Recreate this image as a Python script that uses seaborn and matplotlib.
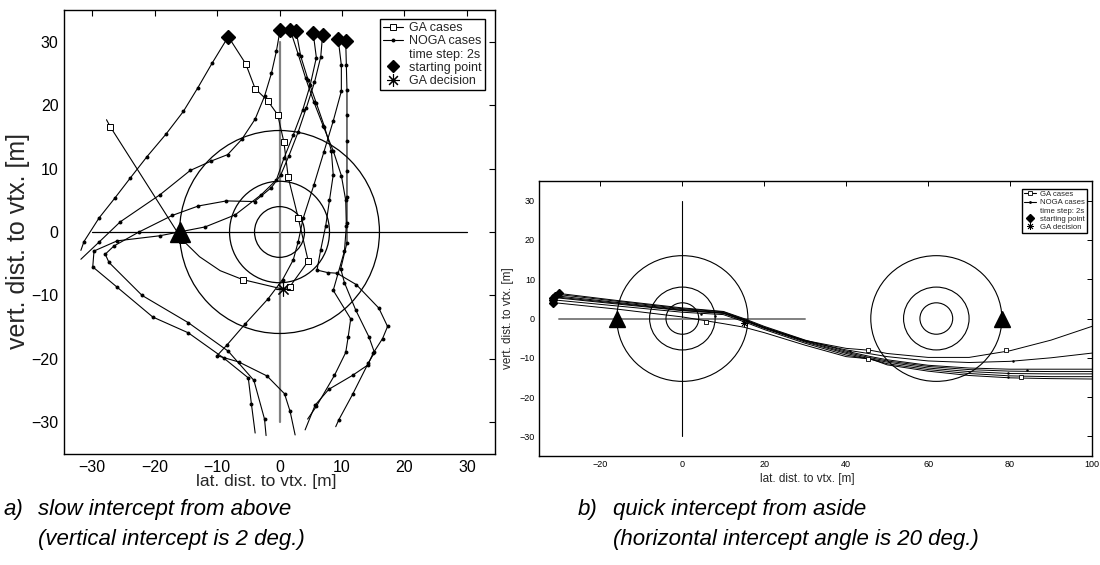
import matplotlib
matplotlib.use("Agg")
import matplotlib.pyplot as plt
from matplotlib.patches import Circle
from matplotlib.lines import Line2D
import seaborn as sns

sns.set_theme(style="white")
plt.rcParams['font.family'] = ['Liberation Sans', 'DejaVu Sans']
plt.rcParams['axes.unicode_minus'] = True

# ---------------- data: panel a (slow intercept from above) ----------------
noga1_x = [-8.2, -10.8, -13.1, -15.4, -18.2, -21.2, -23.9, -26.4, -28.9, -31.3, -31.8]
noga1_y = [30.8, 26.6, 22.7, 19.0, 15.4, 11.9, 8.5, 5.3, 2.2, -1.5, -2.9]

noga2_x = [0.1, -0.5, -1.3, -2.4, -3.9, -6.05, -8.3, -10.9, -14.3, -19.1, -25.5, -28.9, -31.8]
noga2_y = [31.9, 28.5, 25.0, 21.4, 17.8, 14.6, 12.2, 11.2, 9.7, 5.9, 1.6, -1.6, -4.3]

noga3_x = [5.4, 5.9, 4.9, 3.7, 2.2, 0.7, -0.5, -2.9, -7.1, -11.9, -19.2, -26.0, -29.7, -29.9,
           -26.0, -20.3, -14.6, -8.9, -5.0, -4.5, -3.9]
noga3_y = [31.3, 27.5, 23.1, 19.2, 15.3, 11.6, 8.2, 5.9, 2.7, 0.8, -0.6, -1.4, -3.0, -5.5,
           -8.7, -13.4, -15.9, -19.9, -23.0, -27.1, -31.7]

noga4_x = [6.9, 6.6, 5.6, 4.3, 3.0, 1.5, 0.2, -1.3, -4.0, -8.5, -13.0, -17.2, -22.5, -26.5,
           -27.9, -27.3, -22.0, -14.6, -8.2, -4.1, -2.4, -2.15]
noga4_y = [31.1, 27.6, 23.6, 19.6, 15.8, 12.0, 9.0, 7.0, 4.8, 4.9, 4.1, 2.6, 0.0, -2.2,
           -3.5, -4.8, -10.0, -14.3, -18.8, -23.4, -29.5, -32.1]

noga5_x = [1.7, 3.0, 4.2, 5.5, 7.0, 8.6, 9.9, 10.6, 10.7, 10.4, 8.6, 11.4, 11.0, 10.6, 8.8, 5.9, 4.5]
noga5_y = [31.9, 28.0, 24.2, 20.5, 16.7, 12.8, 8.9, 5.0, 1.0, -3.0, -9.2, -13.7, -16.5, -19.0, -22.6, -27.5, -29.5]

noga6_x = [2.65, 3.4, 4.6, 5.9, 7.2, 8.3, 8.6, 8.0, 7.4, 6.6, 6.0, 7.7, 9.2, 12.3, 15.9, 17.3,
           16.5, 15.0, 14.1, 11.7, 7.9, 5.7, 4.1]
noga6_y = [31.7, 27.7, 23.9, 20.3, 16.6, 12.8, 9.0, 5.0, 1.0, -2.8, -6.0, -6.4, -6.5, -8.3, -12.0, -14.9,
           -16.8, -19.1, -21.0, -22.6, -24.8, -27.3, -31.2]

noga7_x = [9.4, 9.9, 9.9, 8.6, 7.1, 5.5, 3.8, 3.0, 2.2, 0.5, -1.8, -5.5, -8.4, -10.0, -6.5, -2.0, 0.8, 1.7, 2.5]
noga7_y = [30.4, 26.3, 22.2, 17.5, 12.6, 7.4, 2.2, -1.5, -4.4, -7.5, -10.5, -14.5, -17.8, -19.5, -20.5, -22.7, -25.5, -28.3, -32.0]

noga8_x = [10.6, 10.7, 10.8, 10.8, 10.8, 10.8, 10.8, 10.8, 10.8, 9.8, 10.4, 12.2, 14.3, 15.2, 14.2, 11.7, 9.5, 9.0]
noga8_y = [30.1, 26.3, 22.4, 18.4, 14.3, 9.6, 5.5, 1.4, -1.7, -5.8, -8.0, -12.3, -16.5, -19.0, -20.7, -25.6, -29.6, -30.7]

ga1_x = [-8.2, -5.4, -3.9, -1.9, -0.3, 0.7, 1.4, 3.0, 4.6, 1.6, 0.5]
ga1_y = [30.8, 26.5, 22.6, 20.7, 18.5, 14.2, 8.6, 2.2, -4.6, -8.7, -9.0]

ga2_x = [-27.7, -27.1, -15.6, -12.8, -9.5, -5.9, 0.5]
ga2_y = [17.7, 16.6, -1.2, -3.9, -6.1, -7.5, -9.0]

start_a_x = [-8.2, 0.1, 1.7, 2.65, 5.4, 6.9, 9.4, 10.6]
start_a_y = [30.8, 31.9, 31.9, 31.7, 31.3, 31.1, 30.4, 30.1]
decision_a = (0.5, -9.0)
vortex_a = (-16.0, 0.0)
radii = [4, 8, 16]

# ---------------- data: panel b (quick intercept from aside) ----------------
xb = [-31, -16, 0, 10, 15, 20, 30, 40, 46, 50, 60, 70, 80, 90, 100]
b_line1 = [6.5, 4.6, 2.7, 1.8, 0.0, -2.0, -5.5, -8.3, -9.7, -10.5, -11.9, -12.6, -12.9, -12.9, -12.9]
b_line2 = [5.8, 4.1, 2.3, 1.5, -0.3, -2.3, -5.8, -8.6, -10.0, -10.8, -12.2, -13.0, -13.4, -13.5, -13.5]
b_line3 = [5.3, 3.7, 2.0, 1.3, -0.5, -2.5, -6.0, -8.9, -10.3, -11.1, -12.6, -13.5, -14.0, -14.1, -14.1]
b_line4 = [4.7, 3.2, 1.6, 1.0, -0.8, -2.8, -6.3, -9.3, -10.4, -11.5, -13.0, -14.0, -14.6, -14.8, -14.8]
b_line5 = [5.5, 3.9, 2.1, 1.4, -0.4, -2.4, -5.7, -8.0, -9.0, -9.7, -10.8, -11.2, -10.9, -10.0, -8.8]
b_ga1 = [4.0, 2.4, 0.4, -1.3, -2.2, -3.6, -6.8, -9.7, -10.3, -11.8, -13.4, -14.5, -15.1, -15.3, -15.4]
b_ga2 = [6.2, 4.4, 2.5, 1.7, -0.2, -2.2, -5.6, -7.6, -8.1, -8.9, -9.9, -9.9, -8.2, -5.5, -2.0]
b_ga_sq_x = [5.8, 45.4, 82.7, 45.4, 79.1]
b_ga_sq_y = [-0.8, -10.3, -14.8, -8.1, -8.1]
b_dot_x = [4.5, 8.0, 41.0, 80.6, 84.1, 79.5, 79.5]
b_dot_y = [1.2, 0.6, -8.3, -10.8, -13.1, -13.9, -14.8]
start_b_x = [-30.2, -31.1, -31.5, -31.6, -31.5]
start_b_y = [6.5, 5.8, 5.3, 4.7, 4.0]
decision_b = (15.0, -1.2)
vortex_b = [(-16.0, 0.0), (78.0, 0.0)]
centers_b = [0.0, 62.0]

# ---------------- figure ----------------
fig = plt.figure(figsize=(11, 5.65), dpi=100)
ax1 = fig.add_axes([0.0582, 0.1965, 0.3918, 0.7858])
ax2 = fig.add_axes([0.49, 0.1929, 0.5027, 0.4867])

LW = 0.8
def line(ax, x, y, **kw):
    sns.lineplot(x=x, y=y, sort=False, estimator=None, ax=ax, color='black',
                 linewidth=kw.pop('lw', LW), legend=False, **kw)

# ---- panel a ----
ax1.plot([-30, 30], [0, 0], color='black', lw=0.9, zorder=1)
ax1.plot([0, 0], [-30, 30], color='#808080', lw=1.6, zorder=1)
for r in radii:
    ax1.add_patch(Circle((0, 0), r, fill=False, ec='black', lw=0.9, zorder=1))

for xs, ys in [(noga1_x, noga1_y), (noga2_x, noga2_y), (noga3_x, noga3_y), (noga4_x, noga4_y),
               (noga5_x, noga5_y), (noga6_x, noga6_y), (noga7_x, noga7_y), (noga8_x, noga8_y)]:
    line(ax1, xs, ys, marker='o', markersize=2.8, markeredgewidth=0, markerfacecolor='black',
         markevery=list(range(1, len(xs) - 1)))
line(ax1, ga1_x, ga1_y, marker='s', markersize=4, markeredgewidth=0.7, markerfacecolor='white',
     markeredgecolor='black', markevery=list(range(1, len(ga1_x) - 1)))
line(ax1, ga2_x, ga2_y, marker='s', markersize=4, markeredgewidth=0.7, markerfacecolor='white',
     markeredgecolor='black', markevery=[1, 2, 5])

ax1.plot(start_a_x, start_a_y, ls='none', marker='D', markersize=7, color='black', zorder=5)
ax1.plot([decision_a[0]], [decision_a[1]], ls='none', marker=(8, 2, 0), markersize=10,
         color='black', mew=0.8, zorder=5)
ax1.plot([vortex_a[0]], [vortex_a[1]], ls='none', marker='^', markersize=15, color='black', zorder=6)

ax1.set_xlim(-34.5, 34.5)
ax1.set_ylim(-35, 35)
ax1.set_xticks([-30, -20, -10, 0, 10, 20, 30])
ax1.set_yticks([-30, -20, -10, 0, 10, 20, 30])
ax1.tick_params(direction='in', length=4, width=0.8, top=True, right=True,
                labelsize=11.5, colors='black', pad=4)
ax1.set_xlabel("lat. dist. to vtx. [m]", fontsize=12.5)
ax1.set_ylabel("vert. dist. to vtx. [m]", fontsize=18)
ax1.xaxis.set_label_coords(0.47, -0.045)
ax1.yaxis.set_label_coords(-0.078, 0.48)

handles = [
    Line2D([], [], color='black', lw=LW, marker='s', markersize=4, markerfacecolor='white', mew=0.7),
    Line2D([], [], color='black', lw=LW, marker='o', markersize=2.8, mew=0),
    Line2D([], [], color='none', lw=0),
    Line2D([], [], color='black', ls='none', marker='D', markersize=6),
    Line2D([], [], color='black', ls='none', marker=(8, 2, 0), markersize=9, mew=0.8),
]
labels = ["GA cases", "NOGA cases", "time step: 2s", "starting point", "GA decision"]
leg1 = ax1.legend(handles, labels, loc='upper right', bbox_to_anchor=(0.976, 0.98), fontsize=9,
                  frameon=True, fancybox=False, edgecolor='black', framealpha=1,
                  borderpad=0.25, labelspacing=0.1, handlelength=1.6, handletextpad=0.5,
                  borderaxespad=0)
leg1.get_frame().set_linewidth(1.0)

# ---- panel b ----
ax2.plot([0, 0], [-30, 30], color='black', lw=0.8, zorder=1)
ax2.plot([-30, 30], [0, 0], color='#808080', lw=1.4, zorder=1)
for cx in centers_b:
    for r in radii:
        ax2.add_patch(Circle((cx, 0), r, fill=False, ec='black', lw=0.8, zorder=1))

for ys in [b_line1, b_line2, b_line3, b_line4, b_line5]:
    line(ax2, xb, ys, lw=0.7)
for ys in [b_ga1, b_ga2]:
    line(ax2, xb, ys, lw=0.7)
ax2.plot(b_ga_sq_x, b_ga_sq_y, ls='none', marker='s', markersize=3, mfc='white', mec='black',
         mew=0.6, zorder=4)
ax2.plot(b_dot_x, b_dot_y, ls='none', marker='o', markersize=1.8, color='black', mew=0, zorder=4)
ax2.plot(start_b_x, start_b_y, ls='none', marker='D', markersize=4.5, color='black', zorder=5)
ax2.plot([decision_b[0]], [decision_b[1]], ls='none', marker=(8, 2, 0), markersize=5,
         color='black', mew=0.6, zorder=5)
ax2.plot([v[0] for v in vortex_b], [v[1] for v in vortex_b], ls='none', marker='^',
         markersize=11, color='black', zorder=6)

ax2.set_xlim(-35, 100)
ax2.set_ylim(-35, 35)
ax2.set_xticks([-20, 0, 20, 40, 60, 80, 100])
ax2.set_yticks([-30, -20, -10, 0, 10, 20, 30])
ax2.tick_params(direction='in', length=3.5, width=0.7, top=True, right=True,
                labelsize=6.5, colors='black', pad=3)
ax2.set_xlabel("lat. dist. to vtx. [m]", fontsize=8.5)
ax2.set_ylabel("vert. dist. to vtx. [m]", fontsize=8.5)
ax2.xaxis.set_label_coords(0.485, -0.062)
ax2.yaxis.set_label_coords(-0.045, 0.5)

handles_b = [
    Line2D([], [], color='black', lw=0.8, marker='s', markersize=3, mfc='white', mew=0.6),
    Line2D([], [], color='black', lw=0.8, marker='o', markersize=2, mew=0),
    Line2D([], [], color='none', lw=0),
    Line2D([], [], color='black', ls='none', marker='D', markersize=4),
    Line2D([], [], color='black', ls='none', marker=(8, 2, 0), markersize=5, mew=0.6),
]
leg2 = ax2.legend(handles_b, labels, loc='upper right', bbox_to_anchor=(0.991, 0.972), fontsize=5.6,
                  frameon=True, fancybox=False, edgecolor='black', framealpha=1,
                  borderpad=0.25, labelspacing=0.1, handlelength=1.6, handletextpad=0.5,
                  borderaxespad=0)
leg2.get_frame().set_linewidth(1.0)

for ax in (ax1, ax2):
    for s in ax.spines.values():
        s.set_visible(True)
        s.set_color('black')
        s.set_linewidth(1.0)
    ax.set_facecolor('white')

# captions
cap_kw = dict(fontsize=16, style='italic', va='center', ha='left', color='black')
fig.text(3 / 1100, 1 - 510 / 565, "a)", **cap_kw)
fig.text(38 / 1100, 1 - 510 / 565, "slow intercept from above", **cap_kw)
fig.text(38 / 1100, 1 - 540 / 565, "(vertical intercept is 2 deg.)", **cap_kw)
fig.text(578 / 1100, 1 - 510 / 565, "b)", **cap_kw)
fig.text(613 / 1100, 1 - 510 / 565, "quick intercept from aside", **cap_kw)
fig.text(613 / 1100, 1 - 540 / 565, "(horizontal intercept angle is 20 deg.)", **cap_kw)

fig.savefig("out.png", dpi=100, facecolor='white')
